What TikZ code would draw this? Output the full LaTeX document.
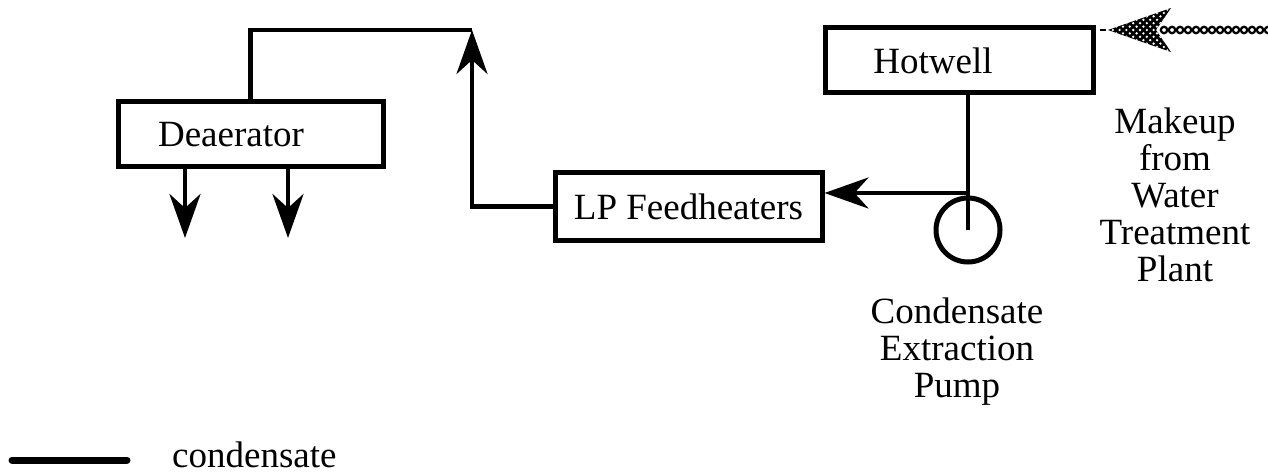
\documentclass[tikz,border=0pt]{standalone}
\usepackage{fontspec}
\newfontfamily\diagfont{Liberation Serif}
\usetikzlibrary{arrows.meta,calc}
\tikzset{
  box/.style={draw,line width=5pt,inner sep=0pt,minimum width=#1},
  lbl/.style={font=\diagfont\fontsize{37}{37}\selectfont,inner sep=0pt,align=center},
  flow/.style={line width=4.5pt},
  bigarrow/.style={flow,-{Stealth[length=44pt,width=31pt,inset=14pt]}},
}
\begin{document}
\begin{tikzpicture}[x=1pt,y=-1pt]
\useasboundingbox (0,0) rectangle (1268,473);
\fill[white] (0,0) rectangle (1268,473);
% boxes
\node[box=265pt,minimum height=65pt] (dea) at (250.5,134.5) {};
\node[lbl] (deatext) at (231,134.5) {Deaerator};
\node[box=267pt,minimum height=67pt,lbl] (lp) at (688.5,206.5) {LP Feedheaters};
\node[box=268pt,minimum height=65pt] (hot) at (959,60.5) {};
\node[lbl] (hottext) at (933,60.5) {Hotwell};
\node[draw,circle,line width=5pt,minimum size=64pt,inner sep=0pt] (pump) at (968,230) {};
% coordinates
\coordinate (c1) at (472,30);
\coordinate (j) at (968,193);
\coordinate (o1) at (185,238);
\coordinate (o2) at (288,238);
\coordinate (mk) at (1108,30);
% connectors
\draw[flow] (hot.south -| pump.center) -- (pump.center);
\draw[bigarrow] (j) -- (lp.east |- j);
\draw[bigarrow] (lp.west) -| (c1);
\draw[flow] (dea.north) |- (c1);
\draw[bigarrow] (dea.south -| o1) -- (o1);
\draw[bigarrow] (dea.south -| o2) -- (o2);
% makeup arrow (hatched)
\foreach \x in {1164,1172,...,1268} {
  \draw[line width=2.2pt,fill=white] (\x,30) circle (3.2pt);
}
\fill[black] (mk) -- (1171,8) -- (1156,30) -- (1171,52) -- cycle;
\begin{scope}
  \clip (mk) -- (1171,8) -- (1156,30) -- (1171,52) -- cycle;
  \foreach \i in {-8,...,8} {
    \foreach \k in {-8,...,8} {
      \fill[white] ($(1140,30)+({(\i+\k)*3.4},{(\i-\k)*3.4})$) circle (1.3pt);
    }
  }
\end{scope}
\draw[line width=2pt] (1100,30) -- (1106,30);
% labels
\node[lbl] (makeup) at (1175,195) {Makeup\\from\\Water\\Treatment\\Plant};
\node[lbl] (cep) at (957,352) {Condensate\\Extraction\\Pump};
% legend
\coordinate (l1) at (12,460);
\coordinate (l2) at (127,460);
\draw[line width=7pt,line cap=round] (l1) -- (l2);
\node[lbl,anchor=base west] (legtext) at (172,467) {condensate};
\end{tikzpicture}
\end{document}
